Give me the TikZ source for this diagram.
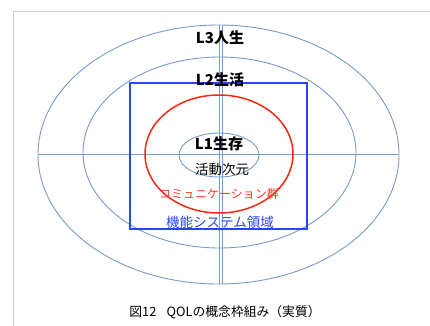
\documentclass[tikz,border=0pt]{standalone}
\usepackage{fontspec}
\newfontfamily\jp{Noto Sans CJK JP}
\definecolor{ringblue}{RGB}{120,155,200}
\definecolor{boxblue}{RGB}{40,70,245}
\definecolor{redring}{RGB}{245,40,20}
\definecolor{redtext}{RGB}{250,60,40}
\definecolor{framegray}{RGB}{205,205,205}
\tikzset{
  ring/.style={draw=ringblue, line width=0.9pt},
  lbl/.style={font=\jp\bfseries\fontsize{15}{17}\selectfont, text=black, inner sep=0pt},
  txt/.style={font=\jp\fontsize{13.5}{15}\selectfont, inner sep=0pt},
}
\begin{document}
\begin{tikzpicture}[x=1pt,y=-1pt]
\useasboundingbox (0,0) rectangle (430,325);
\draw[framegray, line width=0.8pt] (13,330) -- (13,11) -- (435,11);
% rings
\draw[ring] (218.5,154.5) ellipse [x radius=180.5, y radius=129.5];
\draw[ring] (219.5,152.5) ellipse [x radius=136.5, y radius=95.5];
\draw[ring] (219,155) ellipse [x radius=40, y radius=22];
% axes
\coordinate (hl) at (38,154.5);
\coordinate (hr) at (399,154.5);
\draw[ring] (hl) -- (hr);
\coordinate (v1t) at (219,25); \coordinate (v1b) at (219,284);
\coordinate (v2t) at (222,25); \coordinate (v2b) at (222,284);
\draw[ring] (v1t) -- (v1b);
\draw[ring] (v2t) -- (v2b);
% box and red ring
\draw[boxblue, line width=1.1pt] (130,83) rectangle (307,229);
\draw[redring, line width=1.5pt] (219,154) ellipse [x radius=74, y radius=59];
% labels
\node[lbl] (l3) at (220,38) {L3人生};
\node[lbl] (l2) at (220,80) {L2生活};
\node[lbl] (l1) at (219,144) {L1生存};
\node[txt] (act) at (222,169) {活動次元};
\node[txt, text=redtext, font=\jp\fontsize{12}{14}\selectfont] (com) at (219,194) {コミュニケーション群};
\node[txt, text=boxblue] (sys) at (220,222) {機能システム領域};
\node[font=\jp\fontsize{12.8}{15}\selectfont, inner sep=0pt] (cap) at (225,312) {図12\hspace{0.8em}QOLの概念枠組み（実質）};
\end{tikzpicture}
\end{document}
